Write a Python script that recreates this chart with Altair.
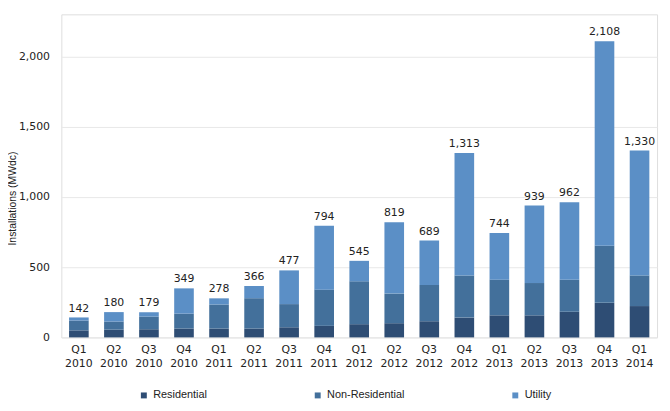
import altair as alt
import pandas as pd

quarters = ["Q1 2010", "Q2 2010", "Q3 2010", "Q4 2010",
            "Q1 2011", "Q2 2011", "Q3 2011", "Q4 2011",
            "Q1 2012", "Q2 2012", "Q3 2012", "Q4 2012",
            "Q1 2013", "Q2 2013", "Q3 2013", "Q4 2013",
            "Q1 2014"]
totals = [142, 180, 179, 349, 278, 366, 477, 794, 545, 819, 689, 1313,
          744, 939, 962, 2108, 1330]
residential = [50, 55, 58, 63, 63, 63, 72, 82, 94, 101, 115, 141,
               157, 157, 183, 246, 223]
non_residential = [70, 58, 90, 106, 171, 216, 165, 258, 305, 211, 258, 300,
                   254, 230, 228, 406, 218]
segments = ["Residential", "Non-Residential", "Utility"]
colors = ["#2e4d74", "#43709b", "#5b8fc6"]

rows = []
for i, q in enumerate(quarters):
    util = totals[i] - residential[i] - non_residential[i]
    for k, (seg, v) in enumerate(zip(segments, [residential[i], non_residential[i], util])):
        rows.append({"quarter": q, "segment": seg, "value": v, "order": k})
df = pd.DataFrame(rows)
tot_df = pd.DataFrame({"quarter": quarters, "total": totals})

FONT = "DejaVu Sans"

x_enc = alt.X("quarter:N", sort=quarters, title=None,
              scale=alt.Scale(paddingInner=0.44, paddingOuter=0.22),
              axis=alt.Axis(labelExpr="split(datum.label, ' ')", labelAngle=0,
                            domain=False, ticks=False, labelPadding=6,
                            labelFont=FONT, labelFontSize=11, labelColor="#222222",
                            labelLineHeight=14))

bars = alt.Chart(df).mark_bar().encode(
    x=x_enc,
    y=alt.Y("value:Q", stack="zero",
            scale=alt.Scale(domain=[0, 2300], nice=False),
            title="Installations (MWdc)",
            axis=alt.Axis(values=[0, 500, 1000, 1500, 2000], format=",.0f",
                          domain=False, ticks=False, labelPadding=12,
                          labelFont=FONT, labelFontSize=11, labelColor="#222222",
                          titleFont="Liberation Sans", titleFontSize=10.5,
                          titleFontWeight="normal", titleColor="#222222",
                          titleX=-44, titleY=186, titleBaseline="bottom",
                          gridColor="#e8e8e8", gridWidth=1)),
    color=alt.Color("segment:N", sort=segments,
                    scale=alt.Scale(domain=segments, range=colors),
                    legend=alt.Legend(title=None, orient="none", direction="horizontal",
                                      legendX=78, legendY=380, columns=3,
                                      columnPadding=106, symbolType="square",
                                      symbolSize=36, symbolStrokeWidth=0,
                                      labelFont="Liberation Sans", labelFontSize=11,
                                      labelColor="#222222", labelOffset=4, padding=0)),
    order=alt.Order("order:Q"),
)

labels = alt.Chart(tot_df).mark_text(baseline="bottom", dy=-4, font=FONT,
                                     fontSize=11, color="#222222").encode(
    x=alt.X("quarter:N", sort=quarters),
    y=alt.Y("total:Q"),
    text=alt.Text("total:Q", format=",.0f"),
)

chart = alt.layer(bars, labels).properties(
    width=603, height=327,
    autosize=alt.AutoSizeParams(type="none"),
    padding={"left": 54, "top": 4, "right": 5, "bottom": 64},
).configure_view(fill="#f0f0f0", stroke=None).configure(background="white")

chart.save("out.html", embed_options={"renderer": "svg", "actions": False})
